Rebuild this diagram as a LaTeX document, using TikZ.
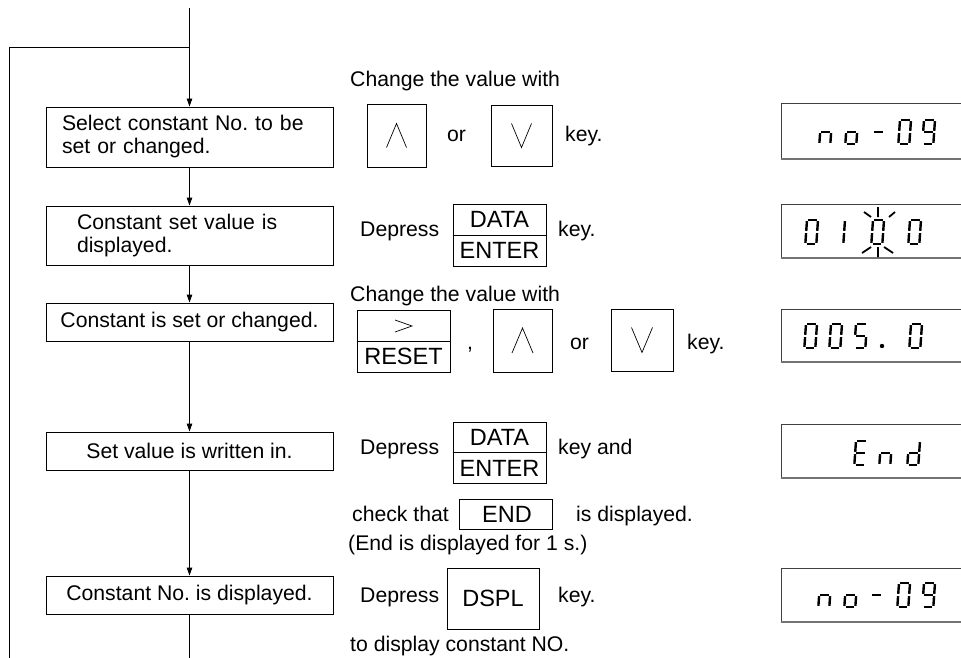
\documentclass[tikz,border=0pt]{standalone}
\usepackage{fontspec}
\setmainfont{Liberation Sans}
\usetikzlibrary{arrows.meta,calc}
\frenchspacing
\newcommand\bodyfont{\fontsize{21.2}{23}\selectfont}
\newcommand\keyfont{\fontsize{23.5}{26}\selectfont}
\pgfkeys{
 /segs/a/.code={\draw[segline] (1.2,0) -- (9.8,0);},
 /segs/b/.code={\draw[segline] (11,1.2) -- (11,10.8);},
 /segs/c/.code={\draw[segline] (11,13.2) -- (11,22.8);},
 /segs/d/.code={\draw[segline] (1.2,24) -- (9.8,24);},
 /segs/e/.code={\draw[segline] (0,13.2) -- (0,22.8);},
 /segs/f/.code={\draw[segline] (0,1.2) -- (0,10.8);},
 /segs/g/.code={\draw[segline] (1.2,12) -- (9.8,12);}
}
\newcommand\segchar[3]{%
  \begin{scope}[shift={(#1,#2)}, xslant=0.07]
    \foreach \s in {#3} {\edef\segkey{/segs/\s}\expandafter\pgfkeys\expandafter{\segkey}}
  \end{scope}}
\tikzset{
  flowbox/.style={draw, line width=0.9pt, minimum width=287pt, inner sep=0pt, font=\bodyfont},
  flowline/.style={line width=0.9pt},
  flowarrow/.style={line width=0.9pt, -{Triangle[length=8pt,width=5.5pt]}},
  bodytext/.style={font=\bodyfont, inner sep=0pt, anchor=base west},
  keybox/.style={draw, line width=0.8pt, inner sep=0pt},
  keylabel/.style={font=\keyfont, inner sep=0pt},
  keysym/.style={line width=0.7pt},
  segline/.style={line width=2.4pt, line cap=butt},
  rayline/.style={line width=1.8pt},
  dispthin/.style={draw=black!75, line width=1pt},
  dispthick/.style={draw=black!55, line width=2pt}
}
\begin{document}
\begin{tikzpicture}[x=1pt, y=-1pt]
\useasboundingbox (0,0) rectangle (961,658);

% ---- flowchart ----
\node[flowbox, minimum height=60pt, text width=255pt, inner xsep=16pt, align=left] (b1) at (189.5,137) {Select constant No. to be\\set or changed.};
\node[flowbox, minimum height=59pt, text width=225pt, inner xsep=31pt, align=left] (b2) at (189.5,235.5) {Constant set value is\\displayed.};
\node[flowbox, minimum height=38pt] (b3) at (189.5,322) {Constant is set or changed.};
\node[flowbox, minimum height=38pt] (b4) at (189.5,451) {Set value is written in.};
\node[flowbox, minimum height=38pt] (b5) at (189.5,595) {Constant No. is displayed.};

\coordinate (top) at (189.5,8);
\coordinate (loopj) at (189.5,47);
\coordinate (loopc) at (9.5,47);
\coordinate (loopb) at (9.5,658);
\coordinate (bot) at (189.5,658);

\draw[flowarrow] (top) -- (b1.north);
\draw[flowline] (loopj) -- (loopc) -- (loopb);
\draw[flowarrow] (b1.south) -- (b2.north);
\draw[flowarrow] (b2.south) -- (b3.north);
\draw[flowarrow] (b3.south) -- (b4.north);
\draw[flowarrow] (b4.south) -- (b5.north);
\draw[flowline] (b5.south) -- (bot);

% ---- row 1 ----
\node[bodytext] (r1a) at (350,87) {Change the value with};
\node[keybox, minimum width=59pt, minimum height=63pt] (up1) at (396.5,135.5) {};
\draw[keysym] ($(up1.center)+(-10,12)$) -- ($(up1.center)+(0,-12)$) -- ($(up1.center)+(10,12)$);
\node[bodytext] (r1or) at (447,142) {or};
\node[keybox, minimum width=61pt, minimum height=61pt] (dn1) at (521.5,135.5) {};
\draw[keysym] ($(dn1.center)+(-10,-12)$) -- ($(dn1.center)+(0,12)$) -- ($(dn1.center)+(10,-12)$);
\node[bodytext] (r1key) at (565,142) {key.};

% ---- row 2 ----
\node[bodytext] (r2dep) at (360,236) {Depress};
\node[keybox, minimum width=93pt, minimum height=62pt] (de1) at (499.5,235) {};
\draw[keysym] (de1.west) -- (de1.east);
\node[keylabel] (de1a) at (499.5,219.5) {DATA};
\node[keylabel] (de1b) at (499.5,250.5) {ENTER};
\node[bodytext] (r2key) at (558,236) {key.};

% ---- row 3 ----
\node[bodytext] (r3a) at (350,301) {Change the value with};
\node[keybox, minimum width=93pt, minimum height=62pt] (rs) at (403.5,341) {};
\draw[keysym] (rs.west) -- (rs.east);
\draw[keysym] ($(rs.center)+(-8.5,-21)$) -- ($(rs.center)+(8.5,-15)$) -- ($(rs.center)+(-8.5,-9)$);
\node[keylabel] (rsb) at (403.5,356.5) {RESET};
\node[bodytext] (r3comma) at (467,349) {,};
\node[keybox, minimum width=59pt, minimum height=63pt] (up2) at (522.5,340.5) {};
\draw[keysym] ($(up2.center)+(-10.5,12.5)$) -- ($(up2.center)+(0,-12.5)$) -- ($(up2.center)+(10.5,12.5)$);
\node[bodytext] (r3or) at (570,349) {or};
\node[keybox, minimum width=62pt, minimum height=62pt] (dn2) at (642,340) {};
\draw[keysym] ($(dn2.center)+(-10.5,-12.5)$) -- ($(dn2.center)+(0,12.5)$) -- ($(dn2.center)+(10.5,-12.5)$);
\node[bodytext] (r3key) at (687,349) {key.};

% ---- row 4 ----
\node[bodytext] (r4dep) at (360,454) {Depress};
\node[keybox, minimum width=93pt, minimum height=61pt] (de2) at (499.5,452.5) {};
\draw[keysym] (de2.west) -- (de2.east);
\node[keylabel] (de2a) at (499.5,437) {DATA};
\node[keylabel] (de2b) at (499.5,468) {ENTER};
\node[bodytext] (r4key) at (558,454) {key and};
\node[bodytext] (r4chk) at (352,521) {check that};
\node[keybox, minimum width=93pt, minimum height=30pt] (endk) at (505.5,514) {};
\node[keylabel] (endl) at (507,514) {END};
\node[bodytext] (r4is) at (576,521) {is displayed.};
\node[bodytext] (r4note) at (348,550) {(End is displayed for 1 s.)};

% ---- row 5 ----
\node[bodytext] (r5dep) at (360,602) {Depress};
\node[keybox, minimum width=92pt, minimum height=61pt] (dspl) at (493,598.5) {};
\node[keylabel] (dspll) at (493,598.5) {DSPL};
\node[bodytext] (r5key) at (558,602) {key.};
\node[bodytext] (r5to) at (350,651) {to display constant NO.};

% ---- displays ----
\foreach \t/\b in {104/159, 204/258, 309/362, 424/478, 568/622} {
  \draw[dispthin] (961,\t) -- (781,\t) -- (781,\b);
  \draw[dispthick] (780.5,\b) -- (961,\b);
}
% no-09
\segchar{821}{120}{c,e,g}
\segchar{847}{120}{c,d,e,g}
\segchar{874}{120}{g}
\segchar{900}{120}{a,b,c,d,e,f}
\segchar{924}{120}{a,b,c,d,f,g}
% 01 0 0 (blinking)
\segchar{807}{220}{a,b,c,d,e,f}
\segchar{834}{220}{b,c}
\segchar{873}{220}{a,b,c,d,e,f}
\segchar{910}{220}{a,b,c,d,e,f}
\draw[rayline] (864,212) -- (871,217) (878,207) -- (878,217) (889,217) -- (895,212)
  (862,253) -- (871,247) (878,247) -- (878,257) (884,247) -- (893,253);
% 005. 0
\segchar{806}{324}{a,b,c,d,e,f}
\segchar{831}{324}{a,b,c,d,e,f}
\segchar{856}{324}{a,c,d,f,g}
\fill (882,346) circle (2.2pt);
\segchar{911}{324}{a,b,c,d,e,f}
% End
\segchar{856}{441}{a,d,e,f,g}
\segchar{881}{441}{c,e,g}
\segchar{909}{441}{b,c,d,e,g}
% no-09
\segchar{820}{583}{c,e,g}
\segchar{846}{583}{c,d,e,g}
\segchar{872}{583}{g}
\segchar{899}{583}{a,b,c,d,e,f}
\segchar{924}{583}{a,b,c,d,f,g}
\end{tikzpicture}
\end{document}
